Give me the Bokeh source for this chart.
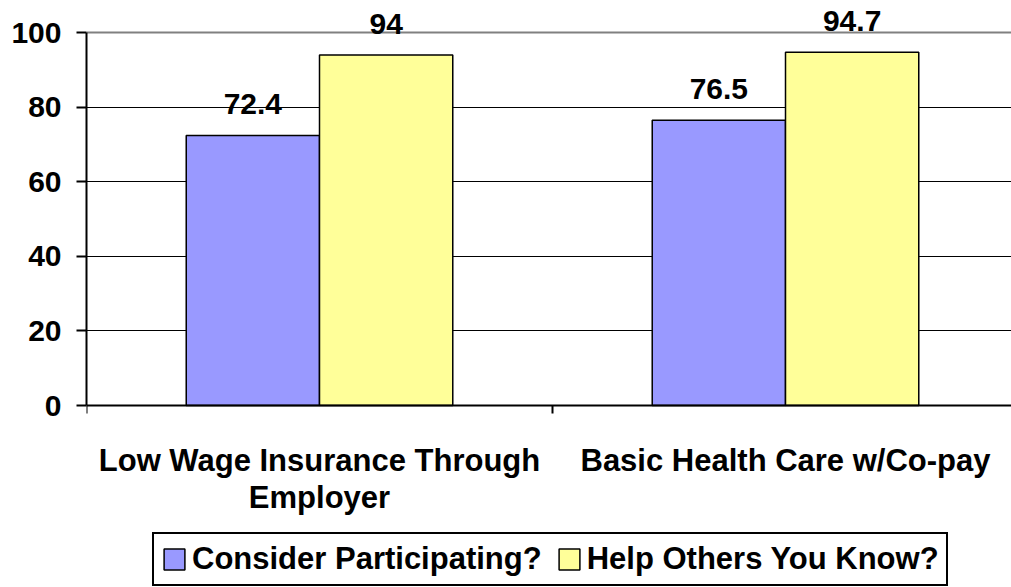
from bokeh.plotting import figure
from bokeh.models import (Range1d, FixedTicker, Legend, LegendItem, Label, LabelSet,
                          ColumnDataSource, Grid)
from bokeh.core.properties import value
from bokeh.embed import file_html
from bokeh.resources import INLINE

# ---- data ----
categories = ["Low Wage Insurance Through\nEmployer", "Basic Health Care w/Co-pay"]
series_names = ["Consider Participating?", "Help Others You Know?"]
consider = [72.4, 76.5]
help_others = [94, 94.7]
y_ticks = [0, 20, 40, 60, 80, 100]

FONT = "Liberation Sans"
COLORS = ["#9999FF", "#FFFF99"]
OFFSETS = [-0.143, 0.143]
BAR_W = 0.286

# ---- layout geometry (pixels) ----
W, H = 1011, 587
LEFT = 86          # y-axis position
TOP_PX = 32        # pixel row of y = 100
ZERO_PX = 405      # pixel row of y = 0
CAT_PX = 466       # pixel width of one category
ppu = (ZERO_PX - TOP_PX) / (y_ticks[-1] - y_ticks[0])
y_end = y_ticks[-1] + TOP_PX / ppu
y_start = y_ticks[0] - (H - ZERO_PX) / ppu
x_end = (W - LEFT) / CAT_PX

p = figure(width=W, height=H, output_backend="svg", toolbar_location=None,
           x_range=Range1d(0, x_end), y_range=Range1d(y_start, y_end),
           min_border_left=LEFT, min_border_right=0, min_border_top=0,
           min_border_bottom=0)
p.outline_line_color = None
p.background_fill_color = "white"
p.border_fill_color = "white"

# grids
p.xgrid.visible = False
p.ygrid.ticker = FixedTicker(ticks=[t for t in y_ticks if 0 < t < 100])
p.ygrid.grid_line_color = "black"
p.ygrid.grid_line_width = 1
p.add_layout(Grid(dimension=1, ticker=FixedTicker(ticks=[y_ticks[-1]]),
                  grid_line_color="#808080", grid_line_width=2))

# y axis
p.yaxis.ticker = FixedTicker(ticks=y_ticks)
p.yaxis.bounds = (y_ticks[0], y_ticks[-1])
p.yaxis.axis_line_color = "black"
p.yaxis.axis_line_width = 2
p.yaxis.major_tick_line_width = 2
p.yaxis.major_tick_out = 10
p.yaxis.major_tick_in = 0
p.yaxis.minor_tick_line_color = None
p.yaxis.major_label_text_font = FONT
p.yaxis.major_label_text_font_style = "bold"
p.yaxis.major_label_text_font_size = "30px"
p.yaxis.major_label_text_color = "black"
p.yaxis.major_label_standoff = 15

# x axis (boundary ticks only), fixed at y = 0
n = len(categories)
p.xaxis.fixed_location = 0
p.xaxis.ticker = FixedTicker(ticks=list(range(n + 1)))
p.xaxis.axis_line_color = "black"
p.xaxis.axis_line_width = 2
p.xaxis.major_tick_line_width = 2
p.xaxis.major_tick_out = 8
p.xaxis.major_tick_in = 0
p.xaxis.minor_tick_line_color = None
p.xaxis.major_label_text_color = None

# bars
renderers = []
for vals, off, col in zip([consider, help_others], OFFSETS, COLORS):
    xs = [i + 0.5 + off for i in range(n)]
    src = ColumnDataSource(dict(x=xs, top=vals,
                                txt=[f"{v:g}" for v in vals]))
    r = p.vbar(x="x", top="top", bottom=0, width=BAR_W, source=src,
               fill_color=col, line_color="black", line_width=1.5)
    renderers.append(r)
    ls = LabelSet(x="x", y="top", text="txt", source=src,
                  text_font=value(FONT), text_font_style="bold",
                  text_font_size="30px", text_color="black",
                  text_align="center", text_baseline="alphabetic",
                  y_offset=21)
    p.add_layout(ls)

# category labels
for i, cat in enumerate(categories):
    for j, line in enumerate(cat.split("\n")):
        p.add_layout(Label(x=i + 0.5, y=0, text=line, text_font=FONT,
                           text_font_style="bold", text_font_size="31px",
                           text_color="black", text_align="center",
                           text_baseline="alphabetic", y_offset=-55 - 37 * j))

# legend
legend = Legend(items=[LegendItem(label=nm, renderers=[r])
                       for nm, r in zip(series_names, renderers)],
                orientation="horizontal", location=(66, 1),
                label_text_font=FONT, label_text_font_style="bold",
                label_text_font_size="31px", label_text_color="black",
                glyph_width=26, glyph_height=26, label_standoff=5,
                spacing=14, padding=7, margin=0,
                border_line_color="black", border_line_width=2,
                border_line_alpha=1.0,
                background_fill_color="white", background_fill_alpha=1)
p.add_layout(legend)

open("out.html", "w").write(file_html(p, INLINE))
